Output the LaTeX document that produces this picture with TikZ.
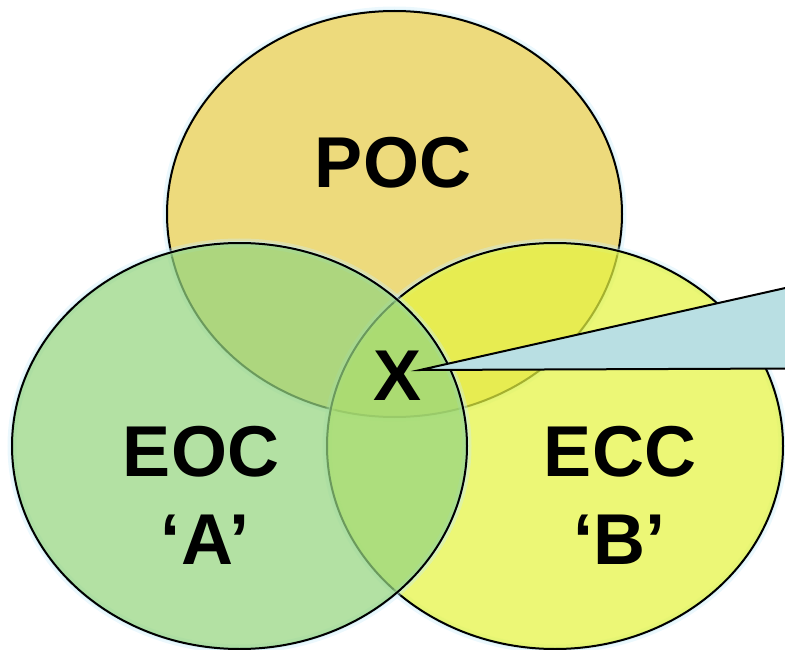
\documentclass[tikz,border=0pt]{standalone}
\usepackage{fontspec}
\setmainfont{Liberation Sans}
\definecolor{pocfill}{RGB}{237,218,124}
\definecolor{eocfill}{RGB}{149,213,128}
\definecolor{eccfill}{RGB}{229,244,65}
\definecolor{callfill}{RGB}{185,223,227}
\definecolor{glow}{RGB}{200,236,248}
\tikzset{
  halo/.style={draw=glow, line width=9pt, draw opacity=0.35},
  halocore/.style={draw=glow, line width=4pt, draw opacity=0.5},
  setfill/.style={fill=#1, fill opacity=0.72, draw=black, draw opacity=1, line width=2pt},
  pocset/.style={fill=pocfill, draw=black, line width=2pt},
  calloutshape/.style={fill=callfill, draw=black, line width=2pt, line join=miter},
  label/.style={font=\fontsize{72}{84}\selectfont\bfseries, text=black, inner sep=0pt}
}
\begin{document}
\begin{tikzpicture}[x=1pt,y=-1pt]
\useasboundingbox (0,0) rectangle (785,650);
\begin{scope}
\clip (0,0) rectangle (785,650);
% upper circle
\draw[halo] (394.5,214) ellipse [x radius=227.5, y radius=203];
\draw[halocore] (394.5,214) ellipse [x radius=227.5, y radius=203];
\path[pocset] (394.5,214) ellipse [x radius=227.5, y radius=203];
% lower right circle
\draw[halo] (555,446) ellipse [x radius=228, y radius=203];
\draw[halocore] (555,446) ellipse [x radius=228, y radius=203];
\path[setfill=eccfill] (555,446) ellipse [x radius=228, y radius=203];
% lower left circle
\draw[halo] (239.5,446) ellipse [x radius=227.5, y radius=203];
\draw[halocore] (239.5,446) ellipse [x radius=227.5, y radius=203];
\path[setfill=eocfill] (239.5,446) ellipse [x radius=227.5, y radius=203];
% callout wedge pointing at the common region
\coordinate (tip) at (420,370);
\coordinate (calltop) at (792,286.5);
\coordinate (callbot) at (792,368.5);
\path[calloutshape] (tip) -- (calltop) -- (callbot) -- cycle;
\end{scope}
% labels
\node[label] (poc) at (393,163) {POC};
\node[label] (eoc) at (201,452) {EOC};
\node[label] (eoca) at (205,540) {‘A’};
\node[label] (ecc) at (620,452) {ECC};
\node[label] (eccb) at (619,540) {‘B’};
\node[label] (x) at (398,376) {X};
\end{tikzpicture}
\end{document}
